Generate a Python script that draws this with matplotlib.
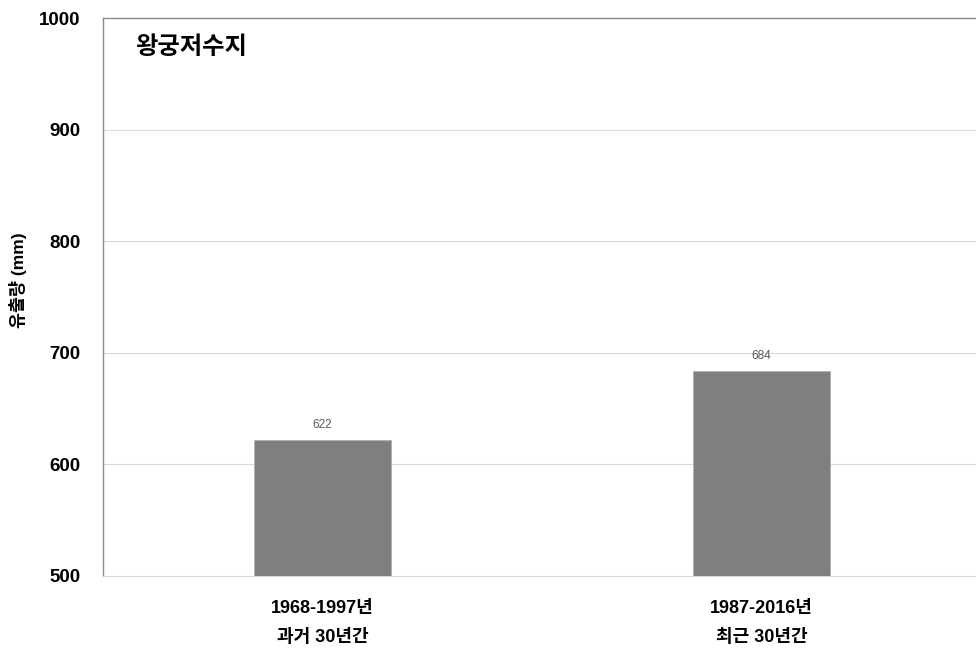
import numpy as np
import matplotlib.pyplot as plt

plt.rcParams['font.family'] = ['Liberation Sans', 'Noto Sans CJK KR', 'DejaVu Sans']

# data
periods = ['1968-1997년', '1987-2016년']
spans = ['과거 30년간', '최근 30년간']
runoff = [622, 684]
title = '왕궁저수지'
ylabel = '유출량 (mm)'
yticks = [500, 600, 700, 800, 900, 1000]

fig = plt.figure(figsize=(9.76, 6.51), dpi=100)
ax = fig.add_axes([103/976, 75/651, 878/976, 558/651])

x = np.arange(len(runoff))
bars = ax.bar(x, runoff, width=0.312, color='#7f7f7f', edgecolor='#b0b0b0',
              linewidth=0.6, zorder=3)
for xi, v in zip(x, runoff):
    ax.text(xi, v + 8, str(v), ha='center', va='bottom', fontsize=8.5,
            color='#595959')

ax.set_xlim(-0.5, len(runoff) - 0.5)
ax.set_ylim(500, 1000)
ax.set_yticks(yticks)
ax.set_yticklabels([str(t) for t in yticks], fontsize=13.5, fontweight='bold')
ax.set_xticks(x)
ax.set_xticklabels([p + '\n' + s for p, s in zip(periods, spans)],
                   fontsize=13, fontweight='bold', linespacing=1.95)
ax.tick_params(axis='both', length=0)
ax.tick_params(axis='y', pad=16)
ax.tick_params(axis='x', pad=17)

ax.yaxis.grid(True, color='#d9d9d9', linewidth=0.8, zorder=0)
ax.set_axisbelow(True)
for side in ['left', 'top']:
    ax.spines[side].set_color('#8c8c8c')
    ax.spines[side].set_linewidth(1.0)
ax.spines['bottom'].set_color('#d9d9d9')
ax.spines['right'].set_visible(False)

ax.set_ylabel(ylabel, fontsize=12.5, fontweight='bold')
ax.yaxis.set_label_coords(-0.087, 0.53)
ax.text(0.036, 0.948, title, transform=ax.transAxes, fontsize=17.5,
        fontweight='bold', va='center', ha='left')

fig.savefig('out.png', dpi=100)
